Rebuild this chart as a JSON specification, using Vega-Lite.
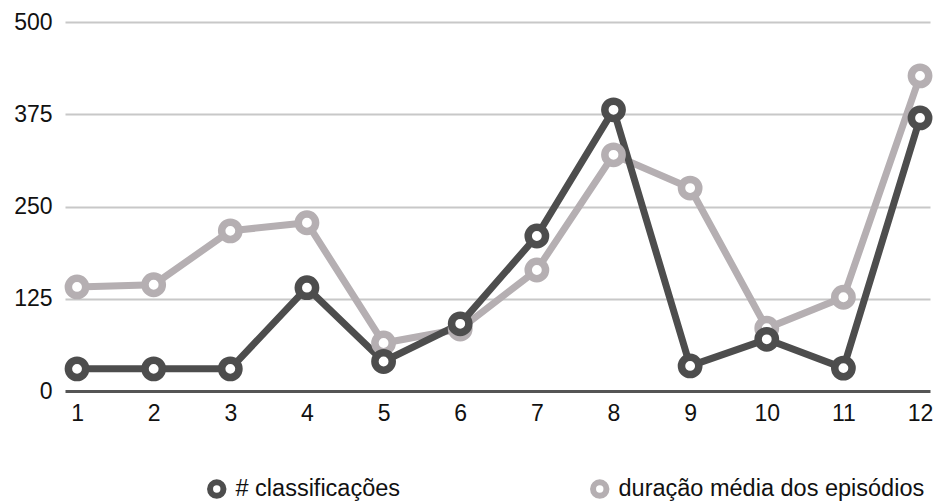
{
  "$schema": "https://vega.github.io/schema/vega-lite/v6.json",
  "autosize": "none",
  "width": 865,
  "height": 369,
  "padding": {"left": 65, "top": 22, "right": 5, "bottom": 111},
  "background": "white",
  "config": {
    "font": "Liberation Sans",
    "view": {"stroke": null}
  },
  "data": {
    "values": [
      {"x": 1, "series": "duração média dos episódios", "v": 141},
      {"x": 2, "series": "duração média dos episódios", "v": 144},
      {"x": 3, "series": "duração média dos episódios", "v": 217},
      {"x": 4, "series": "duração média dos episódios", "v": 228},
      {"x": 5, "series": "duração média dos episódios", "v": 65},
      {"x": 6, "series": "duração média dos episódios", "v": 84},
      {"x": 7, "series": "duração média dos episódios", "v": 164},
      {"x": 8, "series": "duração média dos episódios", "v": 320},
      {"x": 9, "series": "duração média dos episódios", "v": 275},
      {"x": 10, "series": "duração média dos episódios", "v": 85},
      {"x": 11, "series": "duração média dos episódios", "v": 127},
      {"x": 12, "series": "duração média dos episódios", "v": 427},
      {"x": 1, "series": "# classificações", "v": 30},
      {"x": 2, "series": "# classificações", "v": 30},
      {"x": 3, "series": "# classificações", "v": 30},
      {"x": 4, "series": "# classificações", "v": 140},
      {"x": 5, "series": "# classificações", "v": 40},
      {"x": 6, "series": "# classificações", "v": 91},
      {"x": 7, "series": "# classificações", "v": 210},
      {"x": 8, "series": "# classificações", "v": 381},
      {"x": 9, "series": "# classificações", "v": 34},
      {"x": 10, "series": "# classificações", "v": 70},
      {"x": 11, "series": "# classificações", "v": 31},
      {"x": 12, "series": "# classificações", "v": 370}
    ]
  },
  "encoding": {
    "x": {
      "field": "x",
      "type": "quantitative",
      "scale": {"domain": [0.843, 12.13], "nice": false, "zero": false},
      "axis": {
        "title": null,
        "values": [1,2,3,4,5,6,7,8,9,10,11,12],
        "grid": false,
        "ticks": false,
        "domain": true,
        "domainColor": "#555555",
        "domainWidth": 3,
        "labelFontSize": 23,
        "labelColor": "#111111",
        "labelPadding": 11,
        "labelFlush": false
      }
    },
    "y": {
      "field": "v",
      "type": "quantitative",
      "scale": {"domain": [0, 500], "nice": false},
      "axis": {
        "title": null,
        "values": [0, 125, 250, 375, 500],
        "domain": false,
        "ticks": false,
        "grid": true,
        "gridColor": {"condition": {"test": "datum.value === 0", "value": "transparent"}, "value": "#c8c8c8"},
        "gridWidth": 2,
        "labelFontSize": 23,
        "labelColor": "#111111",
        "labelPadding": 13
      }
    },
    "stroke": {
      "field": "series",
      "type": "nominal",
      "scale": {
        "domain": ["# classificações", "duração média dos episódios"],
        "range": ["#4d4d4d", "#b5afb2"]
      },
      "legend": {
        "title": null,
        "orient": "none",
        "legendX": 140,
        "legendY": 455,
        "direction": "horizontal",
        "columnPadding": 180,
        "symbolType": "circle",
        "symbolFillColor": "white",
        "symbolStrokeWidth": 6,
        "symbolSize": 180,
        "labelFontSize": 23.5,
        "labelLimit": 500,
        "labelColor": "#111111",
        "labelOffset": 7
      }
    }
  },
  "layer": [
    {
      "mark": {"type": "line", "strokeWidth": 7},
      "encoding": {
        "order": {"field": "x", "type": "quantitative"},
        "detail": {"field": "series"}
      }
    },
    {
      "mark": {"type": "point", "filled": true, "fill": "white", "strokeWidth": 7.5, "size": 300, "opacity": 1}
    }
  ]
}
